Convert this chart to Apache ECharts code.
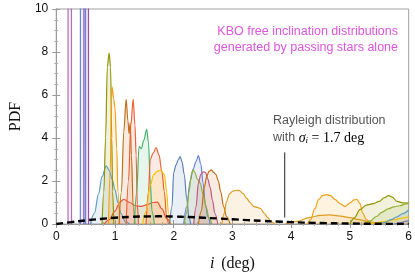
<!DOCTYPE html>
<html><head><meta charset="utf-8">
<script src="https://cdn.jsdelivr.net/npm/echarts@6/dist/echarts.min.js"></script>
<style>html,body{margin:0;padding:0;background:#fff}#c{width:415px;height:277px}</style>
</head><body><div id="c"></div>
<script>
// tick values
const xTicks = [0, 1, 2, 3, 4, 5, 6];
const yTicks = [0, 2, 4, 6, 8, 10];
// series values: [inclination deg, PDF]
const spikePink = [[0.20,0],[0.23,300],[0.26,0]];
const spikeBlue = [[0.41,0],[0.455,300],[0.50,0]];
const spikePurple = [[0.47,0],[0.51,300],[0.55,0]];
const humpBlue = [[0.58,0],[0.65,0.5],[0.72,1.4],[0.78,2.2],[0.85,2.7],[0.9,2.5],[0.95,2.1],[1.0,1.6],[1.05,1.0],[1.1,0.5],[1.18,0.1],[1.25,0]];
const peakOlive = [[0.78,0],[0.81,1.5],[0.84,4],[0.87,7.3],[0.9,7.95],[0.925,7.3],[0.945,4],[0.96,1.5],[0.98,0]];
const peakOrange = [[0.89,0],[0.92,2.5],[0.94,5.8],[0.95,6.38],[0.98,5.8],[1.0,5.4],[1.03,3.5],[1.05,1.5],[1.08,0]];
const peakBrown = [[1.07,0],[1.11,1.5],[1.15,4.3],[1.19,5.8],[1.22,4.8],[1.24,4.2],[1.26,4.7],[1.28,3.2],[1.31,0.8],[1.34,0]];
const peakRed = [[1.19,0],[1.23,2],[1.27,4.6],[1.31,5.8],[1.34,4.6],[1.36,3.2],[1.38,0.9],[1.40,0]];
const broadRed = [[0.82,0],[0.9,0.2],[1.0,0.6],[1.08,1.0],[1.15,1.15],[1.25,1.0],[1.35,0.85],[1.45,0.82],[1.55,0.9],[1.65,1.0],[1.72,1.02],[1.8,0.7],[1.88,0.25],[1.95,0]];
const peakGreen = [[1.33,0],[1.37,1.5],[1.41,3.6],[1.45,3.5],[1.49,3.9],[1.54,4.4],[1.57,3.8],[1.60,2],[1.63,0.6],[1.67,0]];
const peakSalmon = [[1.53,0],[1.57,1.5],[1.6,3.0],[1.65,3.3],[1.7,3.55],[1.75,3.2],[1.8,2.4],[1.84,1.5],[1.88,0.3],[1.91,0]];
const peakGold = [[1.47,0],[1.53,0.6],[1.6,1.8],[1.66,2.3],[1.72,2.45],[1.78,2.5],[1.84,2.3],[1.88,1.5],[1.91,0.5],[1.94,0]];
const peakBlue2 = [[1.93,0],[1.97,0.8],[2.0,2.4],[2.04,2.75],[2.08,3.0],[2.11,3.14],[2.14,2.9],[2.18,2.3],[2.22,1.2],[2.26,0.3],[2.29,0]];
const peakBlue3 = [[2.17,0],[2.22,0.8],[2.28,2.0],[2.33,2.55],[2.38,2.9],[2.42,3.18],[2.46,2.8],[2.5,1.9],[2.54,0.9],[2.58,0.35],[2.62,0]];
const peakYGreen = [[2.18,0],[2.22,0.5],[2.26,1.5],[2.3,2.3],[2.33,2.53],[2.36,2.4],[2.4,2.1],[2.45,1.9],[2.5,1.4],[2.55,0.8],[2.6,0.3],[2.65,0]];
const peakPink = [[2.34,0],[2.38,0.8],[2.42,1.9],[2.46,2.3],[2.5,2.43],[2.54,2.4],[2.58,2.1],[2.62,1.7],[2.66,1.1],[2.7,0.5],[2.75,0]];
const peakBrown2 = [[2.42,0],[2.47,0.6],[2.52,1.7],[2.56,2.2],[2.6,2.45],[2.64,2.52],[2.68,2.4],[2.72,2.3],[2.76,2.0],[2.8,1.5],[2.85,0.8],[2.9,0.35],[2.96,0]];
const humpLOrange = [[2.82,0],[2.86,0.5],[2.9,1.05],[2.95,1.4],[3.0,1.52],[3.06,1.57],[3.12,1.55],[3.18,1.42],[3.24,1.2],[3.3,1.0],[3.36,0.82],[3.42,0.77],[3.48,0.72],[3.54,0.5],[3.6,0.3],[3.66,0.1],[3.72,0]];
const humpOrangeR = [[4.28,0],[4.33,0.2],[4.4,0.7],[4.47,1.15],[4.53,1.32],[4.6,1.37],[4.67,1.32],[4.75,1.13],[4.83,0.95],[4.92,0.82],[5.0,0.98],[5.07,1.12],[5.12,1.15],[5.17,0.95],[5.22,0.5],[5.28,0.2],[5.35,0]];
const broadOrange = [[3.9,0],[4.1,0.12],[4.3,0.3],[4.5,0.4],[4.65,0.42],[4.8,0.38],[5.0,0.3],[5.15,0.2],[5.3,0.12],[5.45,0.05],[5.6,0]];
const humpOliveR = [[5.0,0],[5.08,0.3],[5.17,0.67],[5.28,0.88],[5.4,0.95],[5.5,1.05],[5.58,1.22],[5.66,1.32],[5.72,1.25],[5.8,1.05],[5.9,0.98],[6.0,0.97]];
const riseYGreenR = [[5.25,0],[5.35,0.15],[5.45,0.35],[5.55,0.55],[5.65,0.7],[5.75,0.8],[5.85,0.85],[5.95,0.93],[6.0,0.97]];
const riseBlueR = [[5.5,0],[5.6,0.08],[5.7,0.2],[5.8,0.33],[5.9,0.48],[6.0,0.65]];
const riseGoldR = [[5.3,0],[5.45,0.05],[5.6,0.12],[5.75,0.2],[5.9,0.28],[6.0,0.33]];
const risePurpleR = [[5.75,0],[5.85,0.05],[5.95,0.12],[6.0,0.16]];
// Rayleigh distribution, sigma_i = 1.7 deg
const rayleigh = [[0,0],[0.25,0.086],[0.5,0.166],[0.75,0.235],[1.0,0.291],[1.25,0.330],[1.5,0.352],[1.75,0.357],[2.0,0.346],[2.25,0.324],[2.5,0.293],[2.75,0.257],[3.0,0.219],[3.25,0.181],[3.5,0.145],[3.75,0.114],[4.0,0.087],[4.5,0.047],[5.0,0.023],[5.5,0.010],[6.0,0.004]];
const pointerLine = [[3.89,0.3],[3.89,3.33]];

const chart = echarts.init(document.getElementById('c'), null, {renderer:'canvas'});
function mk(data, color, extra) {
  return Object.assign({
    type:'line', data, smooth:0.35, smoothMonotone:'x', symbol:'none',
    lineStyle:{color, width:1.2}, itemStyle:{color},
    areaStyle:{color, opacity:0.13}, silent:true
  }, extra || {});
}
const sans = 'Liberation Sans';
const serif = 'Liberation Serif';
const axisCommon = {
  min:0, axisLine:{show:true, lineStyle:{color:'#9a9a9a', width:1}},
  axisTick:{show:true, inside:true, length:4, lineStyle:{color:'#9a9a9a'}},
  minorTick:{show:true, length:2, lineStyle:{color:'#b0b0b0'}},
  splitLine:{show:false}
};
chart.setOption({
  animation:false,
  grid:{left:54, right:6, top:9, bottom:49, show:true, borderColor:'#a0a0a0', borderWidth:1},
  xAxis:[
    Object.assign({}, axisCommon, {type:'value', max:xTicks[xTicks.length-1], interval:1, position:'bottom',
      minorTick:{show:true, splitNumber:5, length:2, lineStyle:{color:'#b0b0b0'}},
      axisLabel:{color:'#111', fontFamily:sans, fontSize:12, margin:7, formatter:v=>String(v)},
      name:'{i|i}  {d|(deg)}', nameLocation:'middle', nameGap:32,
      nameTextStyle:{rich:{i:{fontFamily:serif, fontStyle:'italic', fontSize:16, color:'#111'}, d:{fontFamily:serif, fontSize:16, color:'#111'}}}
    }),
    Object.assign({}, axisCommon, {type:'value', max:6, interval:1, position:'top', axisLabel:{show:false},
      minorTick:{show:true, splitNumber:5, length:2, lineStyle:{color:'#b0b0b0'}}})
  ],
  yAxis:[
    Object.assign({}, axisCommon, {type:'value', max:yTicks[yTicks.length-1], interval:2, position:'left',
      minorTick:{show:true, splitNumber:4, length:2, lineStyle:{color:'#b0b0b0'}},
      axisLabel:{color:'#111', fontFamily:sans, fontSize:12, margin:8},
      name:'PDF', nameLocation:'middle', nameGap:32,
      nameTextStyle:{fontFamily:serif, fontSize:16, color:'#111'}
    }),
    Object.assign({}, axisCommon, {type:'value', max:10, interval:2, position:'right', axisLabel:{show:false},
      minorTick:{show:true, splitNumber:4, length:2, lineStyle:{color:'#b0b0b0'}}})
  ],
  series:[
    mk(spikePink, '#B070B0', {smooth:false, areaStyle:{color:'#B070B0', opacity:0.1}}),
    mk(spikeBlue, '#6685D9', {smooth:false}),
    mk(spikePurple, '#9450A8', {smooth:false}),
    mk(humpBlue, '#5D9EC7'),
    mk(broadRed, '#E95536'),
    mk(peakOlive, '#929600'),
    mk(peakOrange, '#F89F13'),
    mk(peakBrown, '#C56E1A'),
    mk(peakRed, '#EB6235'),
    mk(peakGreen, '#47B66D'),
    mk(peakSalmon, '#EB6235'),
    mk(peakGold, '#FFBF00'),
    mk(peakBlue2, '#5E81B5'),
    mk(peakBlue3, '#6685D9'),
    mk(peakYGreen, '#8FB032'),
    mk(peakPink, '#BC5B80'),
    mk(peakBrown2, '#C56E1A'),
    mk(humpLOrange, '#E19C24'),
    mk(broadOrange, '#E19C24'),
    mk(humpOrangeR, '#F89F13'),
    mk(humpOliveR, '#929600'),
    mk(riseYGreenR, '#8FB032'),
    mk(riseGoldR, '#FFBF00'),
    mk(riseBlueR, '#5D9EC7'),
    mk(risePurpleR, '#8778B3'),
    {type:'line', data:rayleigh, smooth:true, symbol:'none', z:10, silent:true,
      lineStyle:{color:'#000', width:2.4, type:[7,4]}},
    {type:'line', data:pointerLine, symbol:'none', z:10, silent:true,
      lineStyle:{color:'#222', width:1}}
  ],
  graphic:[
    {type:'text', right:17, top:25, style:{text:'KBO free inclination distributions', fill:'#E055E0', font:'12.5px "Liberation Sans"', textAlign:'right'}},
    {type:'text', right:17, top:41, style:{text:'generated by passing stars alone', fill:'#E055E0', font:'12.5px "Liberation Sans"', textAlign:'right'}},
    {type:'text', left:273, top:114, style:{text:'Rayleigh distribution', fill:'#555', font:'12.5px "Liberation Sans"'}},
    {type:'text', left:273, top:131, style:{
      text:'{a|with }{s|σ}{b|i}{c| = 1.7 deg}',
      rich:{
        a:{fontFamily:sans, fontSize:12.5, fill:'#555', color:'#555'},
        s:{fontFamily:serif, fontStyle:'italic', fontSize:14, color:'#555'},
        b:{fontFamily:serif, fontStyle:'italic', fontSize:9, color:'#555', padding:[6,0,0,0]},
        c:{fontFamily:serif, fontSize:14, color:'#555'}
      }}}
  ]
});
</script></body></html>
